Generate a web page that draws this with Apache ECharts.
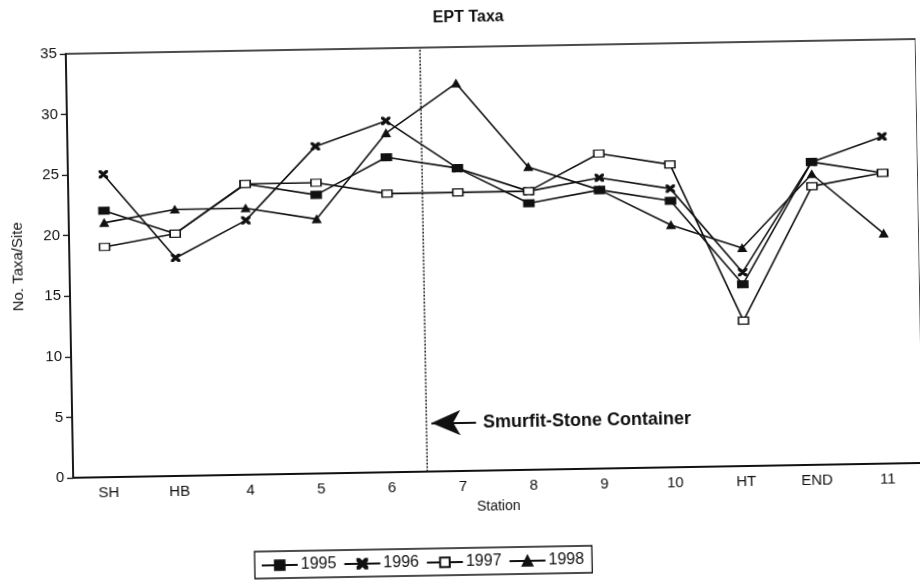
<!DOCTYPE html>
<html>
<head>
<meta charset="utf-8">
<title>EPT Taxa</title>
<script src="https://cdn.jsdelivr.net/npm/echarts@6/dist/echarts.min.js"></script>
<style>
  html, body { margin: 0; padding: 0; background: #fff; overflow: hidden; }
  /* the printed figure sits about one degree off square on the page */
  #chart { width: 920px; height: 583px; transform: rotate(-1deg); transform-origin: 460px 291.5px; }
</style>
</head>
<body>
<div id="chart"></div>
<script>
// Stations in downstream order
const stations = ['SH', 'HB', '4', '5', '6', '7', '8', '9', '10', 'HT', 'END', '11'];
const years = ['1995', '1996', '1997', '1998'];

// Number of EPT taxa per site
const taxa1995 = [22, 20, 24, 23, 26, 25, 22, 23, 22, 15, 25, 24];
const taxa1996 = [25, 18, 21, 27, 29, 25, 23, 24, 23, 16, 25, 27];
const taxa1997 = [19, 20, 24, 24, 23, 23, 23, 26, 25, 12, 23, 24];
const taxa1998 = [21, 22, 22, 21, 28, 32, 25, 23, 20, 18, 24, 19];

const yMin = 0;
const yMax = 35;
const yStep = 5;

// The mill discharge enters between these two stations
const millAfter = '6';
const millLabel = 'Smurfit-Stone Container';
const millLabelLevel = 4;

const ink = '#111';
const font = "'Liberation Sans', Arial, sans-serif";
const crossPath = 'path://M0,0L2,0L10,8L10,10L8,10L0,2ZM8,0L10,0L10,2L2,10L0,10L0,8Z';

const chart = echarts.init(document.getElementById('chart'));

// half-station units on the helper axis: station i spans [2i, 2i + 2]
const millBoundary = 2 * (stations.indexOf(millAfter) + 1);

function yearSeries(name, values, symbol, size, fill) {
  return {
    name: name,
    type: 'line',
    data: values,
    symbol: symbol,
    symbolSize: size,
    showSymbol: true,
    lineStyle: { color: ink, width: 1.6 },
    itemStyle: { color: fill, borderColor: ink, borderWidth: 1.3 },
    emphasis: { disabled: true },
    z: 3
  };
}

chart.setOption({
  animation: false,
  backgroundColor: '#fff',
  title: {
    text: 'EPT Taxa',
    left: 468,
    top: 5,
    textAlign: 'center',
    textStyle: { fontFamily: font, fontSize: 16, fontWeight: 'bold', color: ink }
  },
  grid: {
    left: 70, right: -4, top: 47, bottom: 112,
    show: true, borderColor: ink, borderWidth: 1.6, backgroundColor: 'transparent'
  },
  legend: {
    data: years,
    left: 250,
    top: 548,
    orient: 'horizontal',
    itemWidth: 36,
    itemHeight: 12,
    itemGap: 7,
    padding: [6, 8, 5, 6],
    borderColor: ink,
    borderWidth: 1.3,
    textStyle: { fontFamily: font, fontSize: 16, color: ink, padding: [0, 0, 0, -2] }
  },
  xAxis: [
    {
      type: 'category',
      data: stations,
      boundaryGap: true,
      name: 'Station',
      nameLocation: 'middle',
      nameGap: 29,
      nameTextStyle: { fontFamily: font, fontSize: 14, color: ink },
      axisLine: { lineStyle: { color: ink, width: 1.8 } },
      axisTick: { alignWithLabel: true, length: 4, lineStyle: { color: ink, width: 1.3 } },
      axisLabel: { margin: 8, fontFamily: font, fontSize: 15, color: ink },
      splitLine: { show: false }
    },
    {
      type: 'value',
      min: 0,
      max: 2 * stations.length,
      show: false
    }
  ],
  yAxis: {
    type: 'value',
    min: yMin,
    max: yMax,
    interval: yStep,
    name: 'No. Taxa/Site',
    nameLocation: 'middle',
    nameGap: 44,
    nameTextStyle: { fontFamily: font, fontSize: 15, color: ink },
    axisLine: { show: true, lineStyle: { color: ink, width: 1.6 } },
    axisTick: { show: true, length: 6, lineStyle: { color: ink, width: 1.3 } },
    axisLabel: { margin: 9, fontFamily: font, fontSize: 15, color: ink },
    splitLine: { show: false }
  },
  series: [
    yearSeries('1995', taxa1995, 'rect', [10, 7], ink),
    yearSeries('1996', taxa1996, crossPath, [8, 7], ink),
    yearSeries('1997', taxa1997, 'rect', [10, 7], '#fff'),
    yearSeries('1998', taxa1998, 'triangle', [8, 7], ink),
    {
      // dotted divider at the mill outfall, with the pointer and its caption
      name: 'mill',
      type: 'line',
      xAxisIndex: 1,
      data: [[millBoundary, yMin], [millBoundary, yMax]],
      symbol: 'none',
      silent: true,
      lineStyle: { color: '#222', width: 1.5, type: [2, 1.5] },
      z: 2,
      markLine: {
        silent: true,
        animation: false,
        lineStyle: { color: ink, width: 2, type: 'solid' },
        label: {
          show: true,
          position: 'end',
          distance: 7,
          formatter: millLabel,
          fontFamily: font,
          fontSize: 18,
          fontWeight: 'bold',
          color: ink
        },
        emphasis: { disabled: true },
        data: [[
          { coord: [millBoundary + 0.14, millLabelLevel], symbol: 'arrow', symbolSize: [19, 29] },
          { coord: [millBoundary + 1.4, millLabelLevel], symbol: 'none' }
        ]]
      }
    }
  ]
});
</script>
</body>
</html>
